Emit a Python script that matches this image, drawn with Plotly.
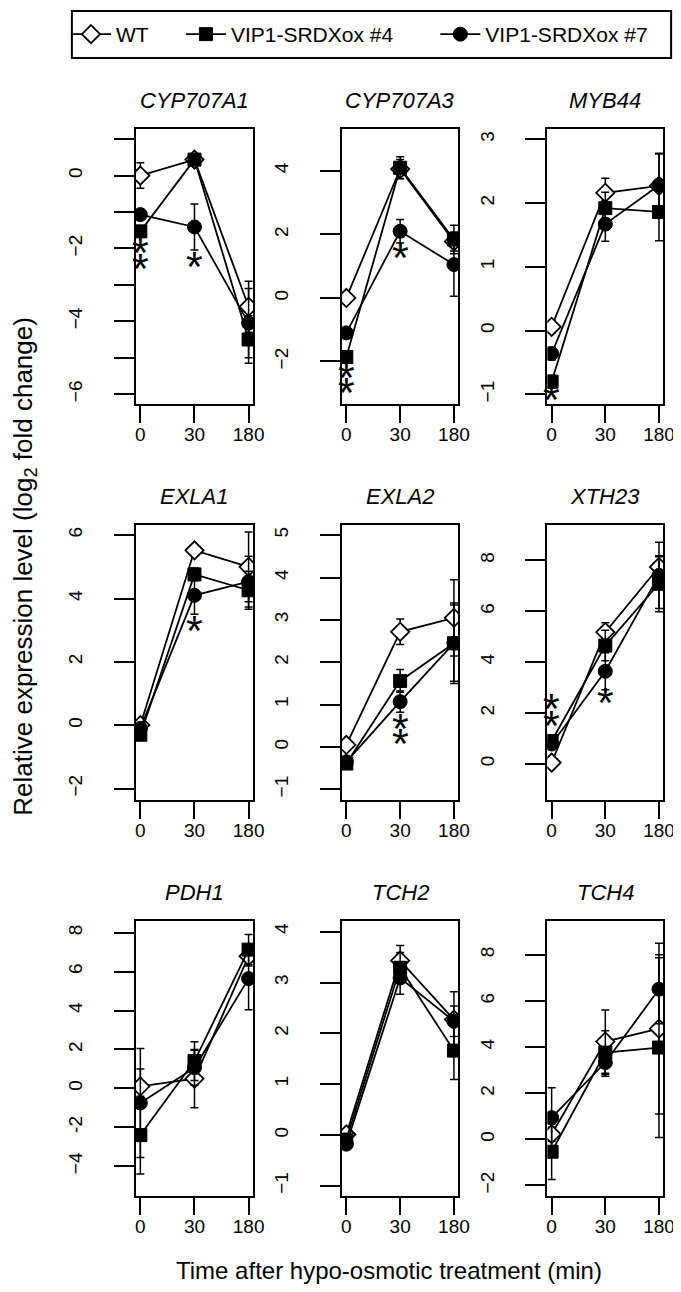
import plotly.graph_objects as go

# ---------------- data ----------------
GENES = ["CYP707A1", "CYP707A3", "MYB44", "EXLA1", "EXLA2", "XTH23", "PDH1", "TCH2", "TCH4"]
TIME_LABELS = ["0", "30", "180"]
SERIES_NAMES = ["WT", "VIP1-SRDXox #4", "VIP1-SRDXox #7"]

WT_MEAN = [
    [0.0, 0.44, -3.6],
    [0.0, 4.06, 1.78],
    [0.06, 2.16, 2.27],
    [0.0, 5.52, 5.0],
    [0.05, 2.72, 3.05],
    [0.05, 5.18, 7.74],
    [0.1, 0.5, 6.79],
    [0.01, 3.43, 2.27],
    [0.22, 4.24, 4.8],
]
WT_ERR = [
    [0.35, 0.1, 0.7],
    [0.1, 0.3, 0.3],
    [0.1, 0.23, 0.5],
    [0.1, 0.1, 1.1],
    [0.1, 0.3, 0.9],
    [0.1, 0.37, 0.4],
    [0.9, 1.5, 0.5],
    [0.05, 0.3, 0.55],
    [0.3, 1.37, 3.7],
]
KO4_MEAN = [
    [-1.53, 0.44, -4.5],
    [-1.86, 4.1, 1.84],
    [-0.8, 1.92, 1.86],
    [-0.3, 4.76, 4.26],
    [-0.39, 1.56, 2.45],
    [0.9, 4.65, 7.08],
    [-2.4, 1.4, 7.13],
    [-0.09, 3.29, 1.66],
    [-0.54, 3.76, 3.98],
]
KO4_ERR = [
    [0.15, 0.1, 0.65],
    [0.1, 0.35, 0.45],
    [0.1, 0.25, 0.45],
    [0.1, 0.2, 0.6],
    [0.1, 0.27, 0.9],
    [0.2, 0.6, 1.1],
    [2.0, 1.0, 0.77],
    [0.05, 0.3, 0.57],
    [1.2, 0.95, 3.9],
]
KO7_MEAN = [
    [-1.07, -1.41, -4.05],
    [-1.1, 2.1, 1.05],
    [-0.36, 1.67, 2.28],
    [-0.1, 4.1, 4.53],
    [-0.35, 1.07, 2.45],
    [0.78, 3.64, 7.41],
    [-0.75, 1.06, 5.64],
    [-0.18, 3.09, 2.24],
    [0.94, 3.33, 6.51],
]
KO7_ERR = [
    [0.1, 0.63, 0.95],
    [0.1, 0.37, 1.0],
    [0.1, 0.27, 0.5],
    [0.1, 0.6, 0.8],
    [0.1, 0.25, 0.95],
    [0.15, 0.73, 1.3],
    [2.8, 0.9, 1.6],
    [0.05, 0.32, 0.3],
    [1.3, 0.6, 1.5],
]

# significance asterisks: time index and y value
STAR_T = [[0, 0, 1], [0, 0, 1], [0, 0], [1], [1, 1], [0, 0, 1], [], [], []]
STAR_Y = [[-2.06, -2.52, -2.45], [-2.47, -2.94, 1.31], [-1.06, -1.3], [3.04],
          [0.48, 0.11], [2.25, 1.56, 2.48], [], [], []]

Y_RANGE = [[-6.27, 1.28], [-3.34, 5.32], [-1.15, 3.16], [-2.36, 6.32], [-1.25, 5.24],
           [-1.42, 9.39], [-5.53, 8.6], [-1.2, 4.21], [-2.46, 9.47]]
Y_TICKS = [
    [-6, -5, -4, -3, -2, -1, 0, 1],
    [-2, 0, 2, 4],
    [-1, 0, 1, 2, 3],
    [-2, 0, 2, 4, 6],
    [-1, 0, 1, 2, 3, 4, 5],
    [0, 2, 4, 6, 8],
    [-4, -2, 0, 2, 4, 6, 8],
    [-1, 0, 1, 2, 3, 4],
    [-2, 0, 2, 4, 6, 8],
]
Y_TICKTEXT = [
    ["\u22126", " ", "\u22124", " ", "\u22122", " ", "0", " "],
    ["\u22122", "0", "2", "4"],
    ["\u22121", "0", "1", "2", "3"],
    ["\u22122", "0", "2", "4", "6"],
    ["\u22121", "0", "1", "2", "3", "4", "5"],
    ["0", "2", "4", "6", "8"],
    ["\u22124", "-2", "0", "2", "4", "6", "8"],
    ["\u22121", "0", "1", "2", "3", "4"],
    ["\u22122", "0", "2", "4", "6", "8"],
]

# ---------------- layout geometry (pixels) ----------------
W, H = 681, 1292
COL_PX = [(129.3, 248.3), (339.0, 457.3), (548.0, 666.0)]
ROW_PX = [(121.0, 396.0), (517.0, 792.0), (913.0, 1188.0)]
LEGEND_X_PX = [58, 175, 434]
FONT = "Liberation Sans, Arial, sans-serif"

fig = go.Figure()
x_pos = [1, 2, 3]

styles = [
    dict(symbol="diamond", size=14, color="white", line=dict(color="black", width=1.8)),
    dict(symbol="square", size=13, color="black", line=dict(color="black", width=1)),
    dict(symbol="circle", size=14, color="black", line=dict(color="black", width=1)),
]
means = [WT_MEAN, KO4_MEAN, KO7_MEAN]
errs = [WT_ERR, KO4_ERR, KO7_ERR]
legend_ids = ["legend", "legend2", "legend3"]

annotations = []
for g, gene in enumerate(GENES):
    r, c = divmod(g, 3)
    ax = "" if g == 0 else str(g + 1)
    for s in range(3):
        fig.add_trace(go.Scatter(
            x=x_pos, y=means[s][g],
            mode="lines+markers",
            name=SERIES_NAMES[s],
            legend=legend_ids[s],
            showlegend=(g == 0),
            line=dict(color="black", width=1.8),
            marker=styles[s],
            error_y=dict(type="data", array=errs[s][g], visible=True,
                         color="black", thickness=1.5, width=4),
            xaxis="x" + ax, yaxis="y" + ax,
            hoverinfo="skip",
        ))
    for t, yv in zip(STAR_T[g], STAR_Y[g]):
        annotations.append(dict(
            x=x_pos[t], y=yv, xref="x" + ax, yref="y" + ax,
            text="*", showarrow=False, yshift=-1,
            font=dict(family=FONT, size=43, color="black"),
        ))
    # gene title
    annotations.append(dict(
        x=0.5, y=1, xref="x" + ax + " domain", yref="y" + ax + " domain",
        text="<i>%s</i>" % gene, showarrow=False, xanchor="center", yanchor="bottom",
        yshift=14, font=dict(family=FONT, size=22, color="black"),
    ))
    x0, x1 = COL_PX[c]
    y0, y1 = ROW_PX[r]
    common = dict(showline=True, mirror=True, linecolor="black", linewidth=2,
                  ticks="outside", tickcolor="black", tickwidth=2,
                  showgrid=False, zeroline=False,
                  tickfont=dict(family=FONT, size=19, color="black"))
    fig.update_layout(**{
        "xaxis" + ax: dict(domain=[x0 / W, x1 / W], range=[0.92, 3.08],
                           tickvals=x_pos, ticktext=TIME_LABELS, ticklen=17,
                           anchor="y" + ax, ticklabelstandoff=-5, **common),
        "yaxis" + ax: dict(domain=[1 - y1 / H, 1 - y0 / H], range=Y_RANGE[g],
                           tickvals=Y_TICKS[g], ticktext=Y_TICKTEXT[g], ticklen=20,
                           tickangle=-90, anchor="x" + ax, ticklabelstandoff=24, **common),
    })

# axis titles
annotations.append(dict(
    x=15 / W, y=1 - 558 / H, xref="paper", yref="paper", textangle=-90,
    text="Relative expression level (log<sub>2</sub> fold change)", showarrow=False,
    xanchor="center", yanchor="middle", font=dict(family=FONT, size=26, color="black"),
))
annotations.append(dict(
    x=387 / W, y=1 - 1262 / H, xref="paper", yref="paper",
    text="Time after hypo-osmotic treatment (min)", showarrow=False,
    xanchor="center", yanchor="middle", font=dict(family=FONT, size=24, color="black"),
))

legend_common = dict(orientation="h", yanchor="middle", y=1 - 26.5 / H, xanchor="left",
                     font=dict(family=FONT, size=21, color="black"),
                     bgcolor="rgba(0,0,0,0)", borderwidth=0, itemwidth=40)

fig.update_layout(
    width=W, height=H,
    margin=dict(l=0, r=0, t=0, b=0),
    paper_bgcolor="white", plot_bgcolor="white",
    annotations=annotations,
    showlegend=True,
    legend=dict(x=LEGEND_X_PX[0] / W, **legend_common),
    legend2=dict(x=LEGEND_X_PX[1] / W, **legend_common),
    legend3=dict(x=LEGEND_X_PX[2] / W, **legend_common),
    shapes=[dict(type="rect", xref="paper", yref="paper",
                 x0=64 / W, x1=674 / W, y0=1 - 50 / H, y1=1 - 3 / H,
                 line=dict(color="black", width=2))],
)

fig.write_html("out.html")
